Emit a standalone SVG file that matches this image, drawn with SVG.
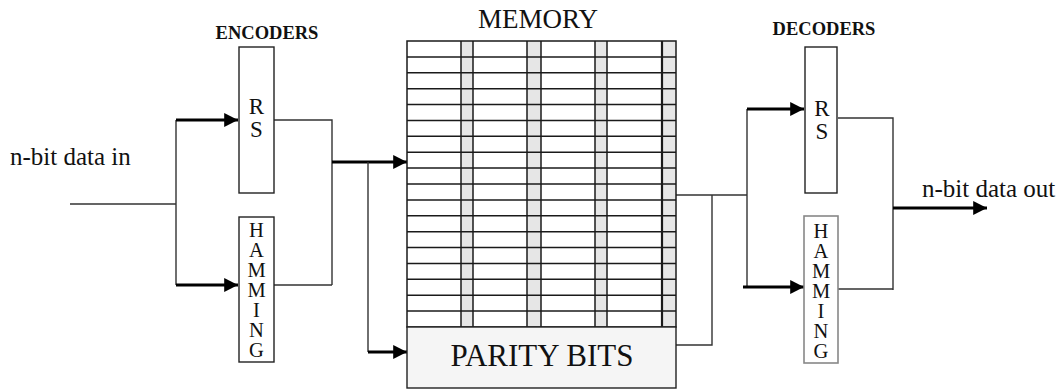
<svg xmlns="http://www.w3.org/2000/svg" width="1063" height="389" viewBox="0 0 1063 389">
  <style>
    .lbl { font-family: "Liberation Serif", "Times New Roman", serif; fill: #111; }
    .hdr { font-family: "Liberation Serif", "Times New Roman", serif; font-weight: bold; font-size: 18.5px; fill: #111; }
    .box { fill: #fff; stroke: #222; stroke-width: 1.4; }
    .wire { fill: none; stroke: #333; stroke-width: 1.4; }
    .bus { fill: none; stroke: #000; stroke-width: 3; }
    .band { fill: #e6e6e6; stroke: none; }
    .grid { stroke: #1a1a1a; stroke-width: 1.5; }
  </style>
  <defs>
    <marker id="arrow" viewBox="0 0 10 10" refX="10" refY="5" markerWidth="4.6" markerHeight="4.8" markerUnits="strokeWidth" orient="auto">
      <path d="M0,0 L10,5 L0,10 Z" fill="#000"/>
    </marker>
  </defs>
  <rect width="1063" height="389" fill="#fff"/>

  <!-- headings and port labels -->
  <text class="lbl" x="10" y="165" font-size="25">n-bit data in</text>
  <text class="lbl" x="922" y="197" font-size="25">n-bit data out</text>
  <text class="hdr" x="267" y="39" text-anchor="middle">ENCODERS</text>
  <text class="hdr" x="824" y="35" text-anchor="middle">DECODERS</text>
  <text class="lbl" x="538" y="28" font-size="27" text-anchor="middle">MEMORY</text>

  <!-- connectors -->
  <g id="connectors">
    <!-- input fan-out -->
    <path class="wire" d="M70,204 H176 M176,120 V285"/>
    <path class="bus" d="M176,120 H238" marker-end="url(#arrow)"/>
    <path class="bus" d="M176,285 H238" marker-end="url(#arrow)"/>
    <!-- encoder outputs merge -->
    <path class="wire" d="M274,120 H332 V285 M274,285 H332"/>
    <path class="bus" d="M332,162 H407" marker-end="url(#arrow)"/>
    <path class="wire" d="M368,162 V352"/>
    <path class="bus" d="M368,352 H407" marker-end="url(#arrow)"/>
    <!-- memory outputs -->
    <path class="wire" d="M676,195 H747 M676,345 H712 V195 M747,109 V287"/>
    <path class="bus" d="M747,109 H804" marker-end="url(#arrow)"/>
    <path class="bus" d="M743,287 H804" marker-end="url(#arrow)"/>
    <!-- decoder outputs merge -->
    <path class="wire" d="M838,118 H893 V290 M838,289 H893"/>
    <path class="bus" d="M893,208 H987" marker-end="url(#arrow)"/>
  </g>

  <!-- encoder RS -->
  <g id="enc-rs">
    <rect class="box" x="239" y="47" width="35" height="146"/>
    <text class="lbl" x="256.5" y="114" font-size="23" text-anchor="middle">R</text>
    <text class="lbl" x="256.5" y="137" font-size="23" text-anchor="middle">S</text>
  </g>

  <!-- encoder Hamming -->
  <g id="enc-hamming" class="lbl" font-size="20.5" text-anchor="middle">
    <rect class="box" x="239" y="217" width="35" height="145"/>
    <text x="256.5" y="236.5">H</text>
    <text x="256.5" y="256.5">A</text>
    <text x="256.5" y="276.5">M</text>
    <text x="256.5" y="296.5">M</text>
    <text x="256.5" y="316.5">I</text>
    <text x="256.5" y="336.5">N</text>
    <text x="256.5" y="356.5">G</text>
  </g>

  <!-- memory array -->
  <g id="memory">
    <rect x="407" y="41" width="269" height="286" fill="#fff"/>
    <rect class="band" x="461" y="41" width="12" height="286"/>
    <rect class="band" x="527" y="41" width="14" height="286"/>
    <rect class="band" x="595" y="41" width="12" height="286"/>
    <rect class="band" x="662" y="41" width="14" height="286"/>
    <g class="grid">
      <line x1="407" y1="56.9" x2="676" y2="56.9"/>
      <line x1="407" y1="72.8" x2="676" y2="72.8"/>
      <line x1="407" y1="88.7" x2="676" y2="88.7"/>
      <line x1="407" y1="104.6" x2="676" y2="104.6"/>
      <line x1="407" y1="120.4" x2="676" y2="120.4"/>
      <line x1="407" y1="136.3" x2="676" y2="136.3"/>
      <line x1="407" y1="152.2" x2="676" y2="152.2"/>
      <line x1="407" y1="168.1" x2="676" y2="168.1"/>
      <line x1="407" y1="184" x2="676" y2="184"/>
      <line x1="407" y1="199.9" x2="676" y2="199.9"/>
      <line x1="407" y1="215.8" x2="676" y2="215.8"/>
      <line x1="407" y1="231.7" x2="676" y2="231.7"/>
      <line x1="407" y1="247.6" x2="676" y2="247.6"/>
      <line x1="407" y1="263.4" x2="676" y2="263.4"/>
      <line x1="407" y1="279.3" x2="676" y2="279.3"/>
      <line x1="407" y1="295.2" x2="676" y2="295.2"/>
      <line x1="407" y1="311.1" x2="676" y2="311.1"/>
      <line x1="461" y1="41" x2="461" y2="327"/>
      <line x1="473" y1="41" x2="473" y2="327"/>
      <line x1="527" y1="41" x2="527" y2="327"/>
      <line x1="541" y1="41" x2="541" y2="327"/>
      <line x1="595" y1="41" x2="595" y2="327"/>
      <line x1="607" y1="41" x2="607" y2="327"/>
      <line x1="662" y1="41" x2="662" y2="327" stroke-width="2.2"/>
    </g>
    <rect x="407" y="41" width="269" height="286" fill="none" stroke="#1a1a1a" stroke-width="1.5"/>
  </g>

  <!-- parity bits block -->
  <g id="parity">
    <rect x="407" y="327" width="269" height="61" fill="#f5f5f5" stroke="#222" stroke-width="1.4"/>
    <text class="lbl" x="542" y="366" font-size="31" text-anchor="middle">PARITY BITS</text>
  </g>

  <!-- decoder RS -->
  <g id="dec-rs">
    <rect class="box" x="805" y="47" width="32" height="146"/>
    <text class="lbl" x="822" y="115.5" font-size="23" text-anchor="middle">R</text>
    <text class="lbl" x="822" y="138.5" font-size="23" text-anchor="middle">S</text>
  </g>

  <!-- decoder Hamming -->
  <g id="dec-hamming" class="lbl" font-size="20.5" text-anchor="middle">
    <rect x="804" y="216" width="34" height="147" fill="#fff" stroke="#888" stroke-width="1.6"/>
    <text x="821" y="237.5">H</text>
    <text x="821" y="257.5">A</text>
    <text x="821" y="277.5">M</text>
    <text x="821" y="297.5">M</text>
    <text x="821" y="317.5">I</text>
    <text x="821" y="338">N</text>
    <text x="821" y="358">G</text>
  </g>
</svg>
